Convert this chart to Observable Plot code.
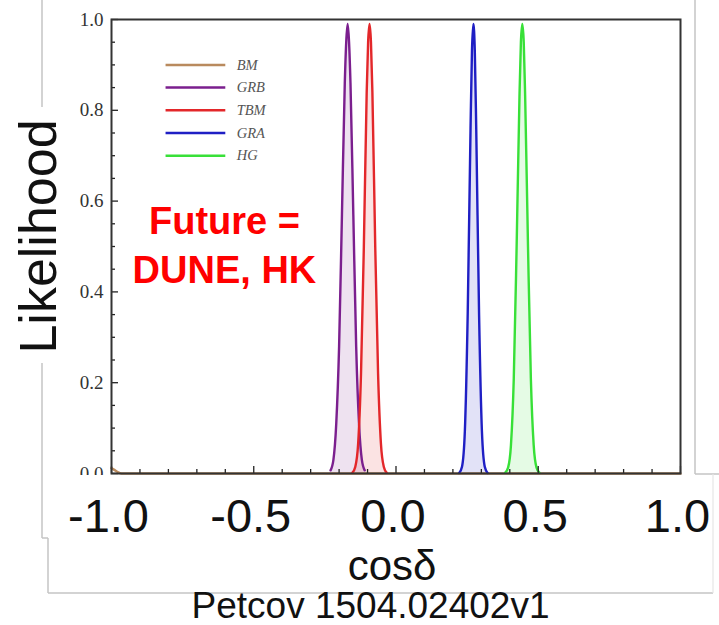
<!DOCTYPE html>
<html><head><meta charset="utf-8">
<script src="https://cdn.jsdelivr.net/npm/d3@7"></script>
<script src="https://cdn.jsdelivr.net/npm/@observablehq/plot@0.6"></script>
<style>
html,body{margin:0;padding:0;background:#fff;}
#chart{width:719px;height:625px;overflow:hidden;}
</style></head><body><div id="chart"></div>
<script>
// ---- data ----
const models = ["BM", "GRB", "TBM", "GRA", "HG"];

const bmX = [-1, -0.99, -0.98, -0.97, -0.96, -0.9, 0, 1];
const bmY = [0.012, 0.008, 0.004, 0.001, 0, 0, 0, 0];

const grbX = [-0.23, -0.22, -0.21, -0.20, -0.19, -0.18, -0.175, -0.17, -0.165, -0.16, -0.15, -0.14, -0.13, -0.12, -0.11];
const grbY = [0.007, 0.03, 0.11, 0.28, 0.57, 0.86, 0.95, 0.99, 0.95, 0.86, 0.57, 0.28, 0.11, 0.03, 0.007];

const tbmX = [-0.153, -0.143, -0.133, -0.123, -0.113, -0.103, -0.098, -0.093, -0.088, -0.083, -0.073, -0.063, -0.053, -0.043, -0.033];
const tbmY = [0.002, 0.015, 0.066, 0.22, 0.50, 0.84, 0.95, 0.99, 0.95, 0.84, 0.50, 0.22, 0.066, 0.015, 0.002];

const graX = [0.222, 0.232, 0.242, 0.252, 0.262, 0.267, 0.272, 0.277, 0.282, 0.292, 0.302, 0.312, 0.322];
const graY = [0.001, 0.015, 0.093, 0.35, 0.76, 0.93, 0.99, 0.93, 0.76, 0.35, 0.093, 0.015, 0.001];

const hgX = [0.384, 0.394, 0.404, 0.414, 0.424, 0.434, 0.439, 0.444, 0.449, 0.454, 0.464, 0.474, 0.484, 0.494, 0.504];
const hgY = [0.002, 0.013, 0.062, 0.21, 0.50, 0.83, 0.95, 0.99, 0.95, 0.83, 0.50, 0.21, 0.062, 0.013, 0.002];

const xTicks = [-1, -0.5, 0, 0.5, 1];
const yTicks = [0, 0.2, 0.4, 0.6, 0.8, 1];
const noteLines = ["Future =", "DUNE, HK"];
const xLabel = "cosδ";
const yLabel = "Likelihood";
const caption = "Petcov 1504.02402v1";

// ---- styles ----
const colors = {BM: "#b98a5e", GRB: "#7b1f8e", TBM: "#e3272a", GRA: "#1f1fc4", HG: "#38e038"};
const sans = "'Liberation Sans', Arial, Helvetica, sans-serif";
const serif = "'Liberation Serif', 'Times New Roman', serif";

const series = [
  {name: "BM", x: bmX, y: bmY},
  {name: "GRB", x: grbX, y: grbY},
  {name: "TBM", x: tbmX, y: tbmY},
  {name: "GRA", x: graX, y: graY},
  {name: "HG", x: hgX, y: hgY}
];
const rows = series.flatMap(s => s.x.map((x, i) => ({model: s.name, x, y: s.y[i]})));
const peaks = rows.filter(d => d.model !== "BM");

const W = 719, H = 625;
const mL = 111, mR = 39, mT = 19, mB = 152;
const pxY = 1 / (H - mT - mB);       // data units per px (y)
const pxX = 2 / (W - mL - mR);       // data units per px (x)
const minorX = d3.range(-10, 11).map(i => i / 10);
const minorY = d3.range(0, 21).map(i => i / 20);
const isMajorX = d => Math.abs(d * 2 - Math.round(d * 2)) < 1e-9;
const isMajorY = d => Math.abs(d * 5 - Math.round(d * 5)) < 1e-9;

const plot = Plot.plot({
  width: W, height: H,
  marginLeft: mL, marginRight: mR, marginTop: mT, marginBottom: mB,
  x: {domain: [-1, 1], axis: null},
  y: {domain: [0, 1], axis: null},
  style: {background: "#fff", fontFamily: sans, overflow: "visible"},
  marks: [
    Plot.areaY(peaks, {x: "x", y: "y", z: "model", fill: d => colors[d.model], fillOpacity: 0.13, curve: "monotone-x"}),
    Plot.lineY(rows, {x: "x", y: "y", z: "model", stroke: d => colors[d.model], strokeWidth: 2.4, curve: "monotone-x"}),
    Plot.ruleX(minorX, {x: d => d, y1: 0, y2: d => (isMajorX(d) ? 7 : 4) * pxY, stroke: "#222", strokeWidth: 1.3}),
    Plot.ruleY(minorY, {y: d => d, x1: -1, x2: d => -1 + (isMajorY(d) ? 7 : 4) * pxX, stroke: "#222", strokeWidth: 1.3}),
    Plot.frame({stroke: "#333", strokeWidth: 2}),
    Plot.axisY({ticks: yTicks, tickSize: 0, tickPadding: 8, tickFormat: d => d.toFixed(1),
      fontFamily: serif, fontSize: 19, fill: "#333", label: null}),
    // legend
    Plot.link(models, {x1: -0.81, x2: -0.60, y1: (d, i) => 0.9 - 0.05 * i, y2: (d, i) => 0.9 - 0.05 * i,
      stroke: d => colors[d], strokeWidth: 2.5}),
    Plot.text(models, {x: -0.56, y: (d, i) => 0.9 - 0.05 * i, text: d => d, textAnchor: "start",
      fontStyle: "italic", fontFamily: serif, fontSize: 14.5, fill: "#555"}),
    // annotation
    Plot.text([noteLines.join("\n")], {x: -0.603, y: 0.509, text: d => d, fill: "#ff0000",
      fontWeight: "bold", fontSize: 38, lineHeight: 1.3, fontFamily: sans}),
    // big tick labels
    Plot.text(xTicks, {x: d => d, frameAnchor: "bottom", dy: 25.6, dx: -3, lineAnchor: "top", textAnchor: "middle",
      text: d => d.toFixed(1), fontSize: 47, fill: "#111", fontFamily: sans}),
    Plot.text([xLabel], {frameAnchor: "bottom", dy: 77, dx: -4, lineAnchor: "top", textAnchor: "middle", text: d => d,
      fontSize: 42, fill: "#111", fontFamily: sans}),
    Plot.text([yLabel], {frameAnchor: "left", rotate: -90, dx: -72.5, dy: -10, lineAnchor: "middle", textAnchor: "middle",
      text: d => d, fontSize: 52, fill: "#111", fontFamily: sans}),
    Plot.text([caption], {frameAnchor: "bottom", dy: 118, dx: -25.5, lineAnchor: "top", textAnchor: "middle",
      text: d => d, fontSize: 37, fill: "#111", fontFamily: sans})
  ]
});

document.getElementById("chart").appendChild(plot);

// decorative panel borders and the white label panel, placed just below the big tick labels
const textGroups = plot.querySelectorAll(':scope > g[aria-label="text"]');
const anchorNode = textGroups.length >= 3 ? textGroups[2] : null;
const deco = d3.create("svg:g").attr("aria-label", "panels");
deco.append("rect").attr("x", 48).attr("y", 475).attr("width", 665).attr("height", 118).attr("fill", "#fff");
const segs = [
  [42, 0, 42, 107], [42, 363, 42, 538], [42, 538, 48, 538], [48, 538, 48, 593],
  [48, 593, 713, 593], [695, 0, 695, 474], [695, 474, 719, 474]
];
deco.selectAll("line").data(segs).join("line")
  .attr("x1", d => d[0]).attr("y1", d => d[1]).attr("x2", d => d[2]).attr("y2", d => d[3])
  .attr("stroke", "#c4c4c4").attr("stroke-width", 1.5);
deco.append("line").attr("x1", 713).attr("y1", 474).attr("x2", 713).attr("y2", 593)
  .attr("stroke", "#e6e6e6").attr("stroke-width", 1.2);
plot.insertBefore(deco.node(), anchorNode);
</script>
</body></html>
